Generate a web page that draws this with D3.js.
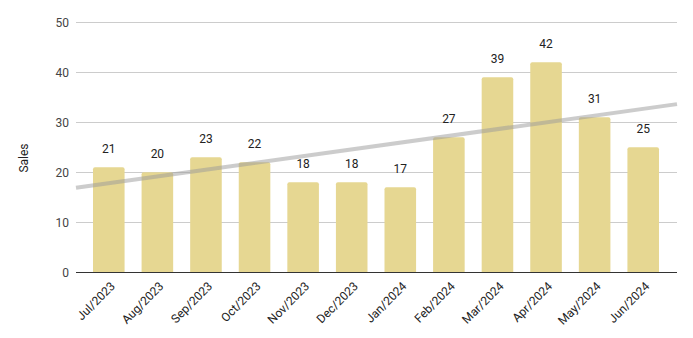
<!DOCTYPE html>
<html>
<head>
<meta charset="utf-8">
<script src="https://cdn.jsdelivr.net/npm/d3@7"></script>
<style>
  html, body { margin: 0; padding: 0; background: #fff; }
  text { font-family: Roboto, "Liberation Sans", Arial, sans-serif; }
</style>
</head>
<body>
<div id="chart"></div>
<script>
const months = ['Jul/2023', 'Aug/2023', 'Sep/2023', 'Oct/2023', 'Nov/2023', 'Dec/2023',
                'Jan/2024', 'Feb/2024', 'Mar/2024', 'Apr/2024', 'May/2024', 'Jun/2024'];
const sales = [21, 20, 23, 22, 18, 18, 17, 27, 39, 42, 31, 25];
const yTicks = [0, 10, 20, 30, 40, 50];

const W = 693, H = 338;
const plotLeft = 76, plotRight = 677;

const svg = d3.select('#chart')
  .append('svg')
  .attr('width', W)
  .attr('height', H);

const data = months.map((m, i) => ({ month: m, value: sales[i], idx: i }));

const x = d3.scaleBand()
  .domain(months)
  .range([84.5, 667.5])
  .paddingInner(0.35)
  .paddingOuter(0.175);

const y = d3.scaleLinear()
  .domain([0, 50])
  .range([272.3, 22.3]);

// gridlines
svg.append('g')
  .selectAll('line')
  .data(yTicks.filter(d => d > 0))
  .join('line')
  .attr('x1', plotLeft)
  .attr('x2', plotRight)
  .attr('y1', d => Math.round(y(d)) + 0.5)
  .attr('y2', d => Math.round(y(d)) + 0.5)
  .attr('stroke', '#cccccc')
  .attr('stroke-width', 1);

// y tick labels
svg.append('g')
  .selectAll('text')
  .data(yTicks)
  .join('text')
  .attr('x', 69)
  .attr('y', d => y(d) + 4.5)
  .attr('text-anchor', 'end')
  .attr('fill', '#444')
  .style('font-size', '12px')
  .text(d => d);

// bars
const cx = d => x(d.month) + x.bandwidth() / 2;
svg.append('g')
  .selectAll('path')
  .data(data)
  .join('path')
  .attr('fill', '#e6d792')
  .attr('d', d => {
    const x0 = x(d.month), w = x.bandwidth();
    const y0 = y(d.value), y1 = y(0), r = 2;
    return `M${x0},${y1}V${y0 + r}Q${x0},${y0} ${x0 + r},${y0}H${x0 + w - r}Q${x0 + w},${y0} ${x0 + w},${y0 + r}V${y1}Z`;
  });

// baseline
svg.append('line')
  .attr('x1', plotLeft)
  .attr('x2', plotRight)
  .attr('y1', Math.round(y(0)) + 0.5)
  .attr('y2', Math.round(y(0)) + 0.5)
  .attr('stroke', '#333')
  .attr('stroke-width', 1);

// linear trendline (least squares over month index)
const n = sales.length;
const mx = d3.mean(data, d => d.idx);
const my = d3.mean(sales);
const slope = d3.sum(data, d => (d.idx - mx) * (d.value - my)) / d3.sum(data, d => (d.idx - mx) ** 2);
const step = x.step();
const idxAt = px => (px - cx(data[0])) / step;
const trend = px => my + slope * (idxAt(px) - mx);

svg.append('line')
  .attr('x1', plotLeft)
  .attr('x2', plotRight)
  .attr('y1', y(trend(plotLeft)))
  .attr('y2', y(trend(plotRight)))
  .attr('stroke', '#999')
  .attr('stroke-opacity', 0.5)
  .attr('stroke-width', 4);

// value labels
svg.append('g')
  .selectAll('text')
  .data(data)
  .join('text')
  .attr('x', d => cx(d))
  .attr('y', d => y(d.value) - 14.5)
  .attr('text-anchor', 'middle')
  .attr('fill', '#222')
  .style('font-size', '12px')
  .text(d => d.value);

// x labels
svg.append('g')
  .selectAll('text')
  .data(data)
  .join('text')
  .attr('transform', d => `translate(${cx(d) + 7},${287}) rotate(-45)`)
  .attr('text-anchor', 'end')
  .attr('fill', '#222')
  .style('font-size', '12px')
  .text(d => d.month);

// y axis title
svg.append('text')
  .attr('transform', 'translate(28,158) rotate(-90)')
  .attr('text-anchor', 'middle')
  .attr('fill', '#222')
  .style('font-size', '12px')
  .text('Sales');
</script>
</body>
</html>
